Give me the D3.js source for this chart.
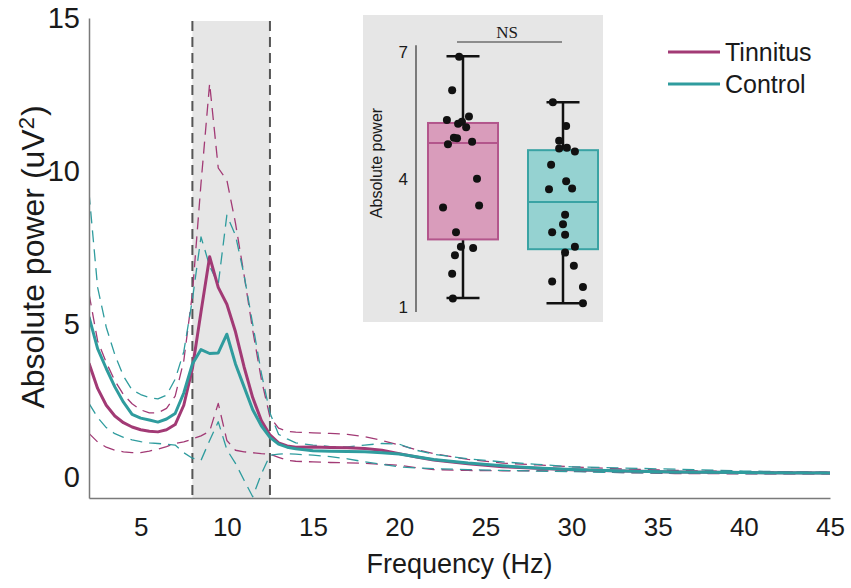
<!DOCTYPE html>
<html>
<head>
<meta charset="utf-8">
<script src="https://cdn.jsdelivr.net/npm/d3@7"></script>
<style>
  body { margin: 0; background: #fff; }
  svg { font-family: "Liberation Sans", Arial, sans-serif; }
</style>
</head>
<body>
<svg id="chart" width="851" height="588"></svg>
<script>
// spectrum, sampled in Hz
var freqs = [2, 2.5, 3, 3.5, 4, 4.5, 5, 5.5, 6, 6.5, 7, 7.5, 8, 8.5, 9, 9.5, 10, 10.5, 11, 11.5, 12, 12.5, 13, 13.5, 14,
  15, 16, 17, 18, 19, 20, 21, 22, 24, 26, 28, 30, 33, 36, 40, 45];

var tinMean = [3.72, 2.9, 2.35, 2.0, 1.78, 1.64, 1.55, 1.5, 1.48, 1.55, 1.72, 2.35, 3.55, 5.4, 7.2, 6.2, 5.65, 4.75, 3.6, 2.6, 1.85, 1.38, 1.12, 1.02, 0.98,
  0.99, 0.97, 0.96, 0.94, 0.88, 0.77, 0.66, 0.56, 0.44, 0.34, 0.29, 0.24, 0.2, 0.17, 0.15, 0.14];
var tinUpper = [6.0, 4.45, 3.75, 3.15, 2.7, 2.4, 2.2, 2.1, 2.1, 2.25, 2.65, 3.8, 6.0, 9.6, 12.86, 10.1, 9.7, 8.3, 6.6, 4.8, 3.2, 1.97, 1.6, 1.5, 1.47,
  1.45, 1.43, 1.4, 1.32, 1.2, 1.05, 0.9, 0.77, 0.58, 0.46, 0.4, 0.34, 0.27, 0.22, 0.18, 0.16];
var tinLower = [1.43, 1.15, 0.98, 0.88, 0.83, 0.8, 0.8, 0.85, 0.92, 1.0, 1.1, 1.15, 1.25, 1.35, 1.5, 2.41, 1.2, 0.88, 0.83, 0.8, 0.77, 0.75, 0.65, 0.55, 0.52,
  0.5, 0.48, 0.47, 0.45, 0.42, 0.39, 0.31, 0.25, 0.22, 0.21, 0.21, 0.2, 0.15, 0.12, 0.11, 0.11];

var conMean = [5.24, 4.2, 3.55, 2.95, 2.45, 2.05, 1.93, 1.87, 1.8, 1.9, 2.08, 2.75, 3.7, 4.17, 4.04, 4.06, 4.67, 3.7, 2.95, 2.2, 1.68, 1.3, 1.08, 0.98, 0.93,
  0.86, 0.85, 0.84, 0.83, 0.8, 0.76, 0.67, 0.58, 0.46, 0.37, 0.3, 0.25, 0.2, 0.17, 0.15, 0.14];
var conUpper = [9.3, 6.2, 4.9, 4.0, 3.3, 2.85, 2.7, 2.6, 2.56, 2.68, 3.2, 4.1, 5.8, 7.85, 6.9, 6.3, 8.56, 7.9, 6.6, 5.0, 3.4, 2.1, 1.4, 1.25, 1.12,
  1.05, 1.0, 0.99, 1.05, 1.1, 1.08, 0.88, 0.75, 0.6, 0.5, 0.42, 0.34, 0.3, 0.26, 0.2, 0.16];
var conLower = [2.41, 1.95, 1.62, 1.42, 1.3, 1.22, 1.16, 1.12, 1.1, 1.08, 1.05, 0.8, 0.62, 0.55, 1.2, 1.81, 0.9, 0.45, -0.1, -0.64, 0.1, 0.72, 0.75, 0.77, 0.75,
  0.72, 0.67, 0.6, 0.5, 0.42, 0.34, 0.3, 0.28, 0.25, 0.22, 0.2, 0.18, 0.15, 0.13, 0.12, 0.12];

var alphaBand = [8, 12.5];
var xTicks = [5, 10, 15, 20, 25, 30, 35, 40, 45];
var yTicks = [0, 5, 10, 15];

// inset box plot (alpha band power)
var groups = ["Tinnitus", "Control"];
var boxQ1 = [2.59, 2.36];
var boxMedian = [4.86, 3.47];
var boxQ3 = [5.33, 4.69];
var whiskerLow = [1.21, 1.09];
var whiskerHigh = [6.9, 5.82];
var insetTicks = [1, 4, 7];

var tinPoints = [6.89, 6.10, 5.40, 5.31, 5.36, 5.23, 5.48, 4.98, 4.97, 4.83, 4.89, 4.02, 3.34, 3.39, 2.76, 2.42, 2.39, 2.22, 1.78, 1.20];
var tinJitter = [-0.11, -0.31, -0.46, -0.14, -0.03, 0.09, 0.17, -0.26, -0.17, -0.43, 0.26, 0.4, -0.57, 0.46, -0.2, -0.06, 0.29, -0.23, -0.31, -0.29];
var conPoints = [5.82, 5.26, 4.91, 4.73, 4.75, 4.66, 4.35, 3.96, 3.77, 3.79, 3.17, 2.95, 2.76, 2.70, 2.42, 2.28, 1.97, 1.60, 1.47, 1.09];
var conJitter = [-0.29, 0.09, -0.11, -0.11, 0.11, 0.34, -0.34, 0.09, -0.4, 0.26, 0.06, 0, -0.31, 0.06, 0.34, 0.06, 0.31, -0.31, 0.57, 0.57];

var TIN = "#a23a75", CON = "#2f9c9e";

var svg = d3.select("#chart");

var x = d3.scaleLinear().domain([2, 45]).range([89, 830]);
var y = d3.scaleLinear().domain([-0.68, 15]).range([498, 18]);

svg.append("defs").append("clipPath").attr("id", "plotclip")
  .append("rect")
  .attr("x", x(2)).attr("y", y(15))
  .attr("width", x(45) - x(2)).attr("height", y(-0.68) - y(15));

// alpha band
svg.append("rect")
  .attr("x", x(alphaBand[0]))
  .attr("y", 21)
  .attr("width", x(alphaBand[1]) - x(alphaBand[0]))
  .attr("height", y(-0.68) - 21)
  .style("fill", "#e6e6e6");

alphaBand.forEach(function(f){
  svg.append("line")
    .attr("x1", x(f)).attr("x2", x(f))
    .attr("y1", 21).attr("y2", y(-0.68))
    .style("stroke", "#555")
    .style("stroke-width", 2)
    .style("stroke-dasharray", "10,6");
});

var curves = svg.append("g").attr("clip-path", "url(#plotclip)");

function addCurve(vals, color, dashed){
  var line = d3.line()
    .x(function(d, i){ return x(freqs[i]); })
    .y(function(d){ return y(d); });
  curves.append("path")
    .datum(vals)
    .attr("d", line)
    .style("fill", "none")
    .style("stroke", color)
    .style("stroke-width", dashed ? 1.3 : 3)
    .style("stroke-dasharray", dashed ? "12,7" : null)
    .style("stroke-linejoin", "round");
}

addCurve(tinUpper, TIN, true);
addCurve(tinLower, TIN, true);
addCurve(conUpper, CON, true);
addCurve(conLower, CON, true);
addCurve(tinMean, TIN, false);
addCurve(conMean, CON, false);

// axes
var xAxis = svg.append("g")
  .attr("transform", "translate(0," + y(-0.68) + ")")
  .call(d3.axisBottom(x).tickValues(xTicks).tickSize(0).tickPadding(20));
var yAxis = svg.append("g")
  .attr("transform", "translate(" + x(2) + ",0)")
  .call(d3.axisLeft(y).tickValues(yTicks).tickSize(0).tickPadding(9));

[xAxis, yAxis].forEach(function(a){
  a.select(".domain").style("stroke", "#7a7a7a").style("stroke-width", 1.5);
  a.selectAll("text").style("fill", "#1a1a1a").style("font-family", "Liberation Sans, Arial, sans-serif");
});
xAxis.selectAll("text").style("font-size", "26px");
yAxis.selectAll("text").style("font-size", "29px");

svg.append("text")
  .attr("x", (x(2) + x(45)) / 2)
  .attr("y", 573)
  .attr("text-anchor", "middle")
  .style("font-size", "27px")
  .style("fill", "#1a1a1a")
  .text("Frequency (Hz)");

var ylab = svg.append("text")
  .attr("transform", "translate(44,257) rotate(-90)")
  .attr("text-anchor", "middle")
  .style("font-size", "32px")
  .style("fill", "#1a1a1a");
ylab.append("tspan").text("Absolute power (uV");
ylab.append("tspan").attr("dy", "-0.45em").style("font-size", "22px").text("2");
ylab.append("tspan").attr("dy", "0.3em").attr("dx", "1").text(")");

// legend
var legend = svg.append("g");
[["Tinnitus", TIN, 52], ["Control", CON, 84]].forEach(function(l){
  legend.append("line")
    .attr("x1", 668).attr("x2", 720)
    .attr("y1", l[2]).attr("y2", l[2])
    .style("stroke", l[1]).style("stroke-width", 3);
  legend.append("text")
    .attr("x", 725).attr("y", l[2] + 9)
    .style("font-size", "25px")
    .style("fill", "#1a1a1a")
    .text(l[0]);
});

// inset
var inset = svg.append("g");
inset.append("rect")
  .attr("x", 363).attr("y", 15)
  .attr("width", 240).attr("height", 307)
  .style("fill", "#e6e6e6");

var iy = d3.scaleLinear().domain([1, 7]).range([307, 52]);
var ix = d3.scalePoint().domain(groups).range([463, 563]);
var boxW = 70;

inset.append("line")
  .attr("x1", 416).attr("x2", 416)
  .attr("y1", iy(7.16)).attr("y2", iy(0.88))
  .style("stroke", "#333").style("stroke-width", 1.2);
insetTicks.forEach(function(t){
  inset.append("text")
    .attr("x", 408).attr("y", iy(t))
    .attr("dy", "0.35em")
    .attr("text-anchor", "end")
    .style("font-size", "17px")
    .style("fill", "#1a1a1a")
    .text(t);
});
inset.append("text")
  .attr("transform", "translate(382,163) rotate(-90)")
  .attr("text-anchor", "middle")
  .style("font-size", "16px")
  .style("fill", "#1a1a1a")
  .text("Absolute power");

inset.append("line")
  .attr("x1", 457).attr("x2", 562)
  .attr("y1", 42).attr("y2", 42)
  .style("stroke", "#333").style("stroke-width", 1);
inset.append("text")
  .attr("x", 507).attr("y", 38)
  .attr("text-anchor", "middle")
  .style("font-family", "Liberation Serif, Times New Roman, serif")
  .style("font-size", "17px")
  .style("fill", "#1a1a1a")
  .text("NS");

var fills = ["#d99cbb", "#95d2d1"];
var strokes = ["#b3568c", "#3aa3a4"];
var pts = [tinPoints, conPoints];
var jit = [tinJitter, conJitter];

groups.forEach(function(g, i){
  var cx = ix(g);
  inset.append("line")
    .attr("x1", cx).attr("x2", cx)
    .attr("y1", iy(whiskerHigh[i])).attr("y2", iy(whiskerLow[i]))
    .style("stroke", "#111").style("stroke-width", 2.5);
  [whiskerHigh[i], whiskerLow[i]].forEach(function(w){
    inset.append("line")
      .attr("x1", cx - 16.5).attr("x2", cx + 16.5)
      .attr("y1", iy(w)).attr("y2", iy(w))
      .style("stroke", "#111").style("stroke-width", 2.5);
  });
  inset.append("rect")
    .attr("x", cx - boxW / 2).attr("y", iy(boxQ3[i]))
    .attr("width", boxW).attr("height", iy(boxQ1[i]) - iy(boxQ3[i]))
    .style("fill", fills[i]).style("stroke", strokes[i]).style("stroke-width", 2);
  inset.append("line")
    .attr("x1", cx - boxW / 2).attr("x2", cx + boxW / 2)
    .attr("y1", iy(boxMedian[i])).attr("y2", iy(boxMedian[i]))
    .style("stroke", strokes[i]).style("stroke-width", 2);
  pts[i].forEach(function(v, k){
    inset.append("circle")
      .attr("cx", cx + jit[i][k] * boxW / 2)
      .attr("cy", iy(v))
      .attr("r", 4)
      .style("fill", "#111");
  });
});
</script>
</body>
</html>
